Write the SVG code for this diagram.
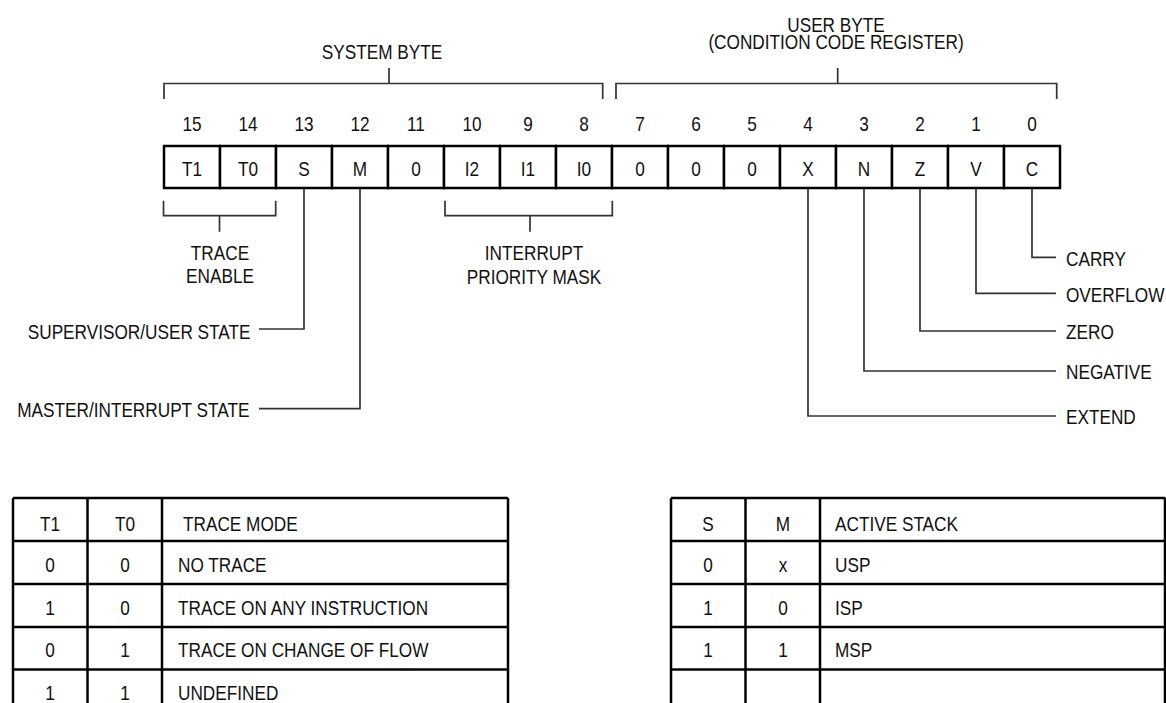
<svg xmlns="http://www.w3.org/2000/svg" width="1166" height="703" viewBox="0 0 1166 703">
<style>
text{font-family:"Liberation Sans Narrow","Liberation Sans",Arial,sans-serif;font-size:21px;fill:#111;transform-box:fill-box;transform-origin:0% 50%;transform:scaleX(0.82)}
.c{text-anchor:middle;transform-origin:50% 50%}
.e{text-anchor:end;transform-origin:100% 50%}
.cell{fill:#fff;stroke:#000;stroke-width:2.5}
.ld{fill:none;stroke:#333;stroke-width:1.7}
.tb{fill:none;stroke:#000;stroke-width:2.5}
</style>
<rect width="1166" height="703" fill="#fff"/>

<g id="brackets">
<path class="ld" d="M164,99 V83.5 H602.7 V99 M389,68 V83.5"/>
<path class="ld" d="M616,99 V83.5 H1056.7 V99 M837.7,68 V83.5"/>
<path class="ld" d="M163.5,200.7 V215.7 H275.7 V200.7 M219.5,215.7 V231.7"/>
<path class="ld" d="M445,200.7 V215.7 H612.3 V200.7 M530,215.7 V231.7"/>
</g>

<g id="header-labels">
<text class="c" x="382" y="59">SYSTEM BYTE</text>
<text class="c" x="836" y="31.7">USER BYTE</text>
<text class="c" x="836" y="49.5">(CONDITION CODE REGISTER)</text>
</g>

<g id="bit-numbers">
<text class="c" x="192" y="131">15</text>
<text class="c" x="248" y="131">14</text>
<text class="c" x="304" y="131">13</text>
<text class="c" x="360" y="131">12</text>
<text class="c" x="416" y="131">11</text>
<text class="c" x="472" y="131">10</text>
<text class="c" x="528" y="131">9</text>
<text class="c" x="584" y="131">8</text>
<text class="c" x="640" y="131">7</text>
<text class="c" x="696" y="131">6</text>
<text class="c" x="752" y="131">5</text>
<text class="c" x="808" y="131">4</text>
<text class="c" x="864" y="131">3</text>
<text class="c" x="920" y="131">2</text>
<text class="c" x="976" y="131">1</text>
<text class="c" x="1032" y="131">0</text>
</g>

<g id="connectors">
<path class="ld" d="M304,188 V329 H259"/>
<path class="ld" d="M360,188 V408.7 H259"/>
<path class="ld" d="M808,188 V416 H1056"/>
<path class="ld" d="M864,188 V371 H1056"/>
<path class="ld" d="M920,188 V331 H1056"/>
<path class="ld" d="M976,188 V293.3 H1056"/>
<path class="ld" d="M1032,188 V257.3 H1056"/>
</g>

<g id="register">
<g id="bit15"><rect class="cell" x="164" y="146" width="56" height="42"/><text class="c" x="192" y="176">T1</text></g>
<g id="bit14"><rect class="cell" x="220" y="146" width="56" height="42"/><text class="c" x="248" y="176">T0</text></g>
<g id="bit13"><rect class="cell" x="276" y="146" width="56" height="42"/><text class="c" x="304" y="176">S</text></g>
<g id="bit12"><rect class="cell" x="332" y="146" width="56" height="42"/><text class="c" x="360" y="176">M</text></g>
<g id="bit11"><rect class="cell" x="388" y="146" width="56" height="42"/><text class="c" x="416" y="176">0</text></g>
<g id="bit10"><rect class="cell" x="444" y="146" width="56" height="42"/><text class="c" x="472" y="176">I2</text></g>
<g id="bit9"><rect class="cell" x="500" y="146" width="56" height="42"/><text class="c" x="528" y="176">I1</text></g>
<g id="bit8"><rect class="cell" x="556" y="146" width="56" height="42"/><text class="c" x="584" y="176">I0</text></g>
<g id="bit7"><rect class="cell" x="612" y="146" width="56" height="42"/><text class="c" x="640" y="176">0</text></g>
<g id="bit6"><rect class="cell" x="668" y="146" width="56" height="42"/><text class="c" x="696" y="176">0</text></g>
<g id="bit5"><rect class="cell" x="724" y="146" width="56" height="42"/><text class="c" x="752" y="176">0</text></g>
<g id="bit4"><rect class="cell" x="780" y="146" width="56" height="42"/><text class="c" x="808" y="176">X</text></g>
<g id="bit3"><rect class="cell" x="836" y="146" width="56" height="42"/><text class="c" x="864" y="176">N</text></g>
<g id="bit2"><rect class="cell" x="892" y="146" width="56" height="42"/><text class="c" x="920" y="176">Z</text></g>
<g id="bit1"><rect class="cell" x="948" y="146" width="56" height="42"/><text class="c" x="976" y="176">V</text></g>
<g id="bit0"><rect class="cell" x="1004" y="146" width="56" height="42"/><text class="c" x="1032" y="176">C</text></g>
</g>

<g id="field-labels">
<text class="c" x="220" y="260">TRACE</text>
<text class="c" x="220" y="283.5">ENABLE</text>
<text class="c" x="534" y="260">INTERRUPT</text>
<text class="c" x="534" y="284">PRIORITY MASK</text>
<text class="e" x="250.5" y="339.3">SUPERVISOR/USER STATE</text>
<text class="e" x="249.5" y="417">MASTER/INTERRUPT STATE</text>
<text x="1066" y="266">CARRY</text>
<text x="1066" y="302">OVERFLOW</text>
<text x="1066" y="339.5">ZERO</text>
<text x="1066" y="379.5">NEGATIVE</text>
<text x="1066" y="424">EXTEND</text>
</g>

<g id="trace-table">
<path class="tb" d="M13,498 H508 M13,541 H508 M13,584 H508 M13,627 H508 M13,669.5 H508 M13,712 H508 M13,498 V712 M87.5,498 V712 M162,498 V712 M508,498 V712"/>
<text class="c" x="50" y="531">T1</text>
<text class="c" x="125" y="531">T0</text>
<text x="183" y="531">TRACE MODE</text>
<text class="c" x="50" y="572">0</text>
<text class="c" x="125" y="572">0</text>
<text x="178" y="572">NO TRACE</text>
<text class="c" x="50" y="615">1</text>
<text class="c" x="125" y="615">0</text>
<text x="178" y="615">TRACE ON ANY INSTRUCTION</text>
<text class="c" x="50" y="657.5">0</text>
<text class="c" x="125" y="657.5">1</text>
<text x="178" y="657.5">TRACE ON CHANGE OF FLOW</text>
<text class="c" x="50" y="700">1</text>
<text class="c" x="125" y="700">1</text>
<text x="178" y="700">UNDEFINED</text>
</g>

<g id="stack-table">
<path class="tb" d="M671,498 H1165.5 M671,541 H1165.5 M671,584 H1165.5 M671,627 H1165.5 M671,669.5 H1165.5 M671,712 H1165.5 M671,498 V712 M745.5,498 V712 M820,498 V712 M1165,498 V712"/>
<text class="c" x="708" y="531">S</text>
<text class="c" x="783" y="531">M</text>
<text x="835" y="531">ACTIVE STACK</text>
<text class="c" x="708" y="572">0</text>
<text class="c" x="783" y="572">x</text>
<text x="835" y="572">USP</text>
<text class="c" x="708" y="615">1</text>
<text class="c" x="783" y="615">0</text>
<text x="835" y="615">ISP</text>
<text class="c" x="708" y="657.5">1</text>
<text class="c" x="783" y="657.5">1</text>
<text x="835" y="657.5">MSP</text>
</g>
</svg>
